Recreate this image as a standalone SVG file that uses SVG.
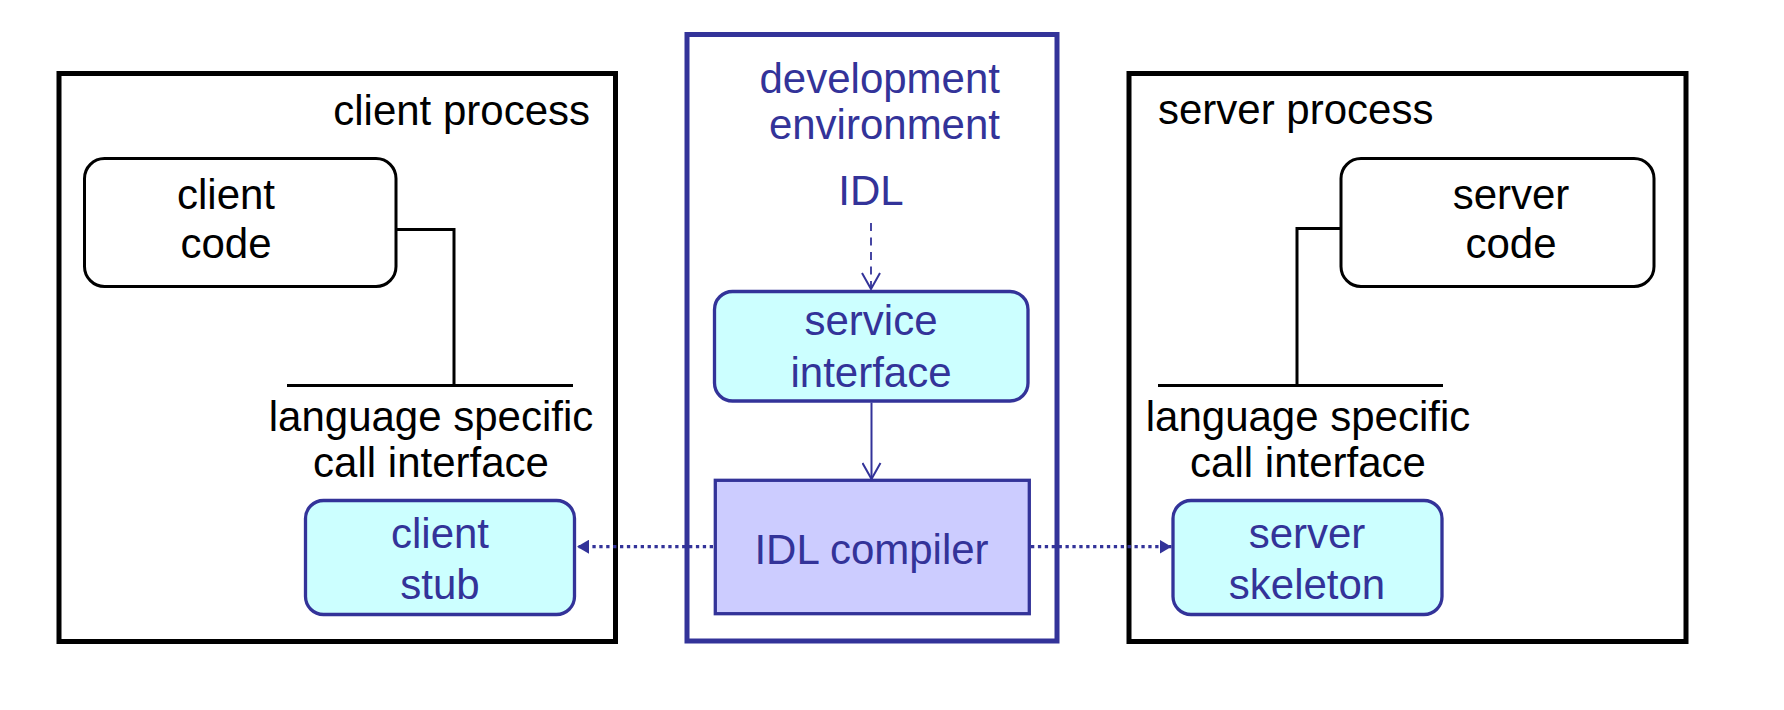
<svg xmlns="http://www.w3.org/2000/svg" width="1784" height="710" viewBox="0 0 1784 710">
  <style>
    text { font-family: "Liberation Sans", Arial, Helvetica, sans-serif; font-size: 42px; }
    .blk { fill: #000000; }
    .blu { fill: #333399; }
    .mid { text-anchor: middle; }
    .end { text-anchor: end; }
    .process { fill: #ffffff; stroke: #000000; stroke-width: 5; }
    .dev { fill: #ffffff; stroke: #333399; stroke-width: 5; }
    .code { fill: #ffffff; stroke: #000000; stroke-width: 3; }
    .cyan { fill: #CCFFFF; stroke: #333399; stroke-width: 3.3; }
    .lav { fill: #CCCCFF; stroke: #333399; stroke-width: 3.3; }
    .wire { fill: none; stroke: #000000; stroke-width: 3; }
    .dotted { fill: none; stroke: #333399; stroke-width: 3.3; stroke-dasharray: 3.3 3.6; }
    .dashed { fill: none; stroke: #333399; stroke-width: 1.8; stroke-dasharray: 8 6.5; }
    .solid { fill: none; stroke: #333399; stroke-width: 2; }
  </style>
  <defs>
    <marker id="open" viewBox="0 0 20 20" markerWidth="20" markerHeight="20" refX="18" refY="10" orient="auto" markerUnits="userSpaceOnUse">
      <path d="M2,1 L18,10 L2,19" fill="none" stroke="#333399" stroke-width="2"/>
    </marker>
    <marker id="filled" viewBox="0 0 12 14" markerWidth="12" markerHeight="14" refX="12" refY="7" orient="auto" markerUnits="userSpaceOnUse">
      <path d="M0,0 L12,7 L0,14 Z" fill="#333399"/>
    </marker>
  </defs>

  <g id="client-process">
    <rect class="process" x="59" y="73.5" width="556.5" height="568"/>
    <text class="blk end" x="590" y="125">client process</text>
  </g>

  <g id="development-environment">
    <rect class="dev" x="687" y="34.5" width="370" height="606.5"/>
    <text class="blu end" x="1000" y="92.5">development</text>
    <text class="blu end" x="1000" y="138.5">environment</text>
  </g>

  <g id="server-process">
    <rect class="process" x="1129" y="73.5" width="557" height="568"/>
    <text class="blk" x="1158" y="124">server process</text>
  </g>

  <g id="client-code">
    <rect class="code" x="84.5" y="158.5" width="311.5" height="128" rx="20" ry="20"/>
    <text class="blk mid" x="226" y="209">client</text>
    <text class="blk mid" x="226" y="258">code</text>
  </g>

  <g id="server-code">
    <rect class="code" x="1341" y="158.5" width="313" height="128" rx="20" ry="20"/>
    <text class="blk mid" x="1511" y="208.5">server</text>
    <text class="blk mid" x="1511" y="258">code</text>
  </g>

  <g id="client-call-interface">
    <line class="wire" x1="287" y1="385.5" x2="573" y2="385.5"/>
    <text class="blk mid" x="431" y="431">language specific</text>
    <text class="blk mid" x="431" y="477">call interface</text>
  </g>

  <g id="server-call-interface">
    <line class="wire" x1="1158" y1="385.5" x2="1443" y2="385.5"/>
    <text class="blk mid" x="1308" y="430.5">language specific</text>
    <text class="blk mid" x="1308" y="476.5">call interface</text>
  </g>

  <g id="idl">
    <text class="blu mid" x="871" y="205">IDL</text>
  </g>

  <g id="service-interface">
    <rect class="cyan" x="714.5" y="291.5" width="313.5" height="109.5" rx="18" ry="18"/>
    <text class="blu mid" x="871" y="335">service</text>
    <text class="blu mid" x="871" y="387">interface</text>
  </g>

  <g id="idl-compiler">
    <rect class="lav" x="715.3" y="480.3" width="314" height="133.4"/>
    <text class="blu mid" x="871.5" y="563.5">IDL compiler</text>
  </g>

  <g id="client-stub">
    <rect class="cyan" x="305.5" y="500.5" width="269" height="114" rx="18" ry="18"/>
    <text class="blu mid" x="440" y="547.5">client</text>
    <text class="blu mid" x="440" y="599">stub</text>
  </g>

  <g id="server-skeleton">
    <rect class="cyan" x="1173" y="500.5" width="269" height="114" rx="18" ry="18"/>
    <text class="blu mid" x="1307" y="547.5">server</text>
    <text class="blu mid" x="1307" y="599">skeleton</text>
  </g>

  <g id="connectors">
    <polyline class="wire" points="396,229.5 454,229.5 454,385.5"/>
    <polyline class="wire" points="1341,228.5 1297,228.5 1297,385.5"/>
    <line class="dashed" x1="871" y1="223" x2="871" y2="289" marker-end="url(#open)"/>
    <line class="solid" x1="871.5" y1="402.5" x2="871.5" y2="479" marker-end="url(#open)"/>
    <line class="dotted" x1="713" y1="546.7" x2="577" y2="546.7" marker-end="url(#filled)"/>
    <line class="dotted" x1="1031" y1="546.7" x2="1171.5" y2="546.7" marker-end="url(#filled)"/>
  </g>
</svg>
